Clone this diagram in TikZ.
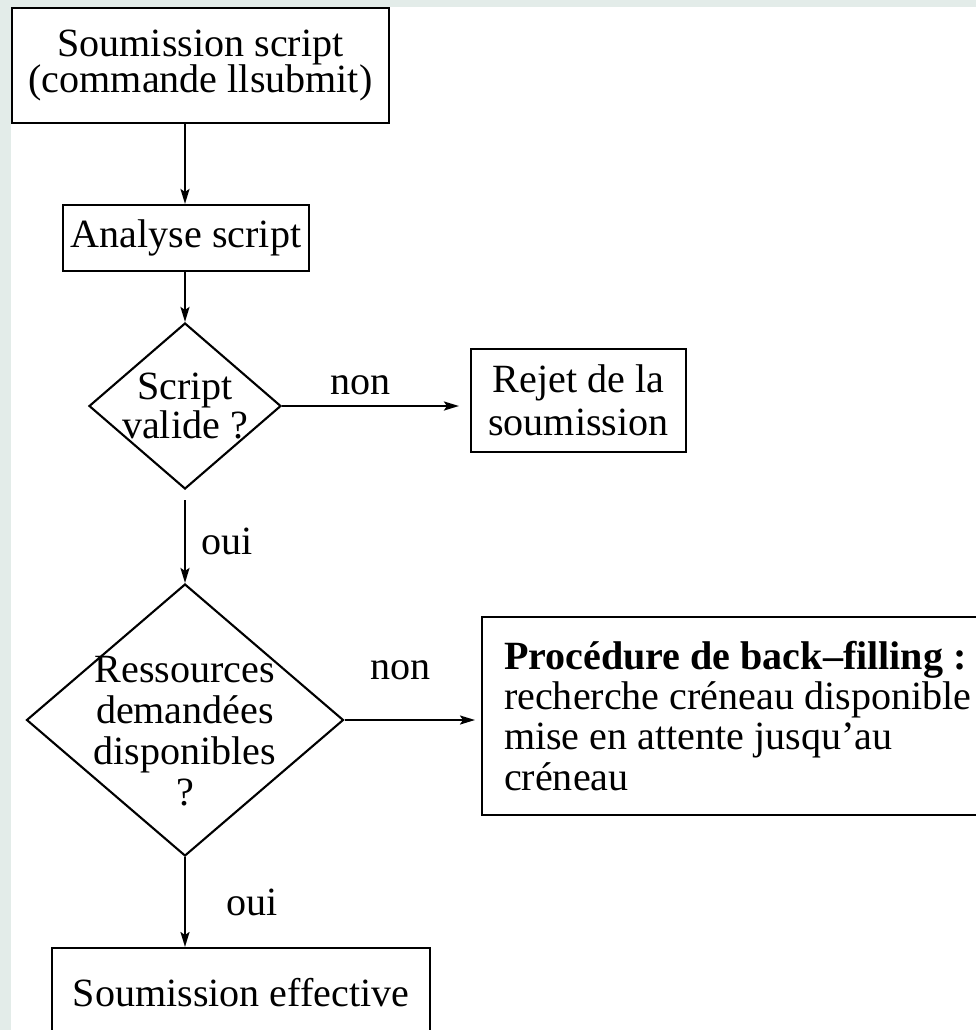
\documentclass[tikz,border=0pt]{standalone}
\usepackage{fontspec}
\setmainfont{Liberation Serif}
\usepackage{tikz}
\usetikzlibrary{arrows.meta,calc,shapes.geometric}
\definecolor{Frame}{HTML}{E3ECE9}
\definecolor{Ink}{HTML}{000000}
\tikzset{
  flowarrow/.style={-{Stealth[length=1.5mm,width=0.9mm,inset=0.3mm]},line width=0.6pt,draw=Ink},
  stepbox/.style={rectangle,draw=Ink,line width=0.6pt,inner sep=0pt,align=center,
    font=\fontsize{11.4}{11.4}\selectfont},
  choice/.style={diamond,draw=Ink,line width=0.6pt,inner sep=-1cm,align=center,
    font=\fontsize{11.4}{11.4}\selectfont},
  answer/.style={inner sep=0pt,font=\fontsize{11.4}{11.4}\selectfont},
}

\begin{document}
\begin{tikzpicture}[x=1cm,y=1cm]
    \useasboundingbox (0,0) rectangle (9.76,-10.30);
    \clip (0,0) rectangle (9.76,-10.30);
    \fill[Frame] (0,0) rectangle (9.76,-10.30);
    \fill[white] (0.11,-0.07) rectangle (9.76,-10.30);

    \node[stepbox,minimum width=3.77cm,minimum height=1.15cm,font=\fontsize{11.4}{10.5}\selectfont] (sub) at (2.005,-0.655) {Soumission script\\(commande llsubmit)};
    \node[stepbox,minimum width=2.46cm,minimum height=0.66cm] (ana) at (1.86,-2.38) {Analyse script};
    \node[choice,minimum width=1.92cm,minimum height=1.66cm,font=\fontsize{11.4}{9.2}\selectfont] (dia1) at (1.85,-4.06) {Script\\valide ?};
    \node[stepbox,minimum width=2.15cm,minimum height=1.03cm,font=\fontsize{11.4}{12.2}\selectfont] (rej) at (5.785,-4.005) {Rejet de la\\soumission};
    \node[choice,minimum width=3.17cm,minimum height=2.72cm,font=\fontsize{11.4}{11.7}\selectfont] (dia2) at (1.85,-7.20)
      {\raisebox{-1.6mm}[\height][\depth]{\begin{tabular}{@{}c@{}}Ressources\\demandées\\disponibles\\?\end{tabular}}};
    \node[stepbox,anchor=west,align=flush left,text width=5.3cm,inner xsep=0.22cm,minimum height=1.98cm] (back) at (4.81,-7.16) {\textbf{Procédure de back–filling :}\\recherche créneau disponible\\mise en attente jusqu’au\\créneau};
    \node[stepbox,anchor=north,minimum width=3.78cm,text height=0.33cm,text depth=0.6cm,inner ysep=0.25cm] (eff) at (2.41,-9.47) {Soumission effective};

    \draw[flowarrow] (sub.south -| dia1.north) -- (ana.north -| dia1.north);
    \draw[flowarrow] (ana.south -| dia1.north) -- (dia1.north);
    \draw[flowarrow,shorten >=1.1mm] (dia1.east) -- node[answer,pos=0.42,yshift=0.21cm] {non} (dia1.east -| rej.west);
    \draw[flowarrow,shorten <=1mm] (dia1.south) -- node[answer,right=0.15cm,pos=0.55] {oui} (dia2.north);
    \draw[flowarrow,shorten >=0.6mm] (dia2.east) -- node[answer,pos=0.41,yshift=0.5cm] {non} (dia2.east -| back.west);
    \draw[flowarrow] (dia2.south) -- node[answer,right=0.4cm] {oui} (dia2.south |- eff.north);
  \end{tikzpicture}
\end{document}
